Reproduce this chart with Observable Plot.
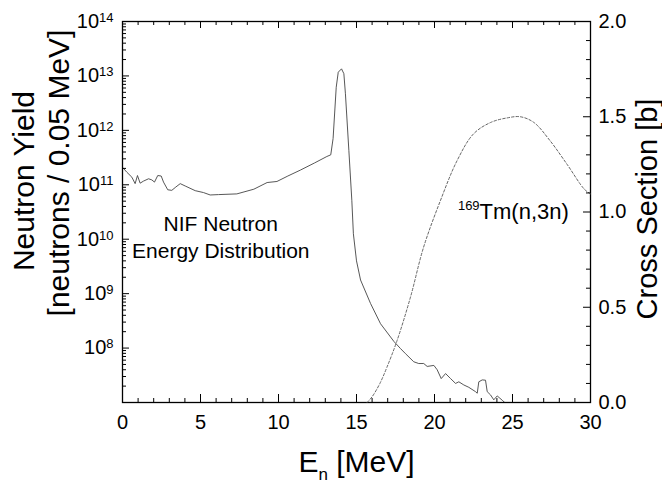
<!DOCTYPE html>
<html><head><meta charset="utf-8">
<script src="https://cdn.jsdelivr.net/npm/d3@7"></script>
<script src="https://cdn.jsdelivr.net/npm/@observablehq/plot@0.6"></script>
<style>
html,body{margin:0;padding:0;background:#fff;}
#wrap{position:relative;width:662px;height:484px;}
#wrap svg{position:absolute;left:0;top:0;}
</style></head><body><div id="wrap"></div>
<script>
// NIF neutron energy distribution (neutrons / 0.05 MeV)
const energy = [0.0,0.28,0.6,0.81,0.96,1.13,1.35,1.67,1.88,2.05,2.26,2.48,2.63,2.9,3.16,3.42,3.7,4.02,4.66,5.19,5.62,6.15,7.33,8.42,9.27,9.9,10.6,11.4,12.3,13.1,13.35,13.5,13.7,13.83,14.04,14.19,14.29,14.51,14.7,14.8,15.0,15.26,15.9,16.54,17.4,17.82,18.14,18.67,18.99,19.31,19.53,19.96,20.17,20.43,20.71,21.03,21.35,21.56,21.88,22.2,22.63,22.74,22.84,23.06,23.27,23.38,23.59,23.8,24.02,24.19,24.34,24.5];
const yieldValues = [2.09e11,1.70e11,1.38e11,1.05e11,1.48e11,1.07e11,1.17e11,1.29e11,1.23e11,1.12e11,1.48e11,1.45e11,1.12e11,8.1e10,7.9e10,9.1e10,1.05e11,9.5e10,7.8e10,7.2e10,6.5e10,6.6e10,6.8e10,8.3e10,1.10e11,1.15e11,1.45e11,1.86e11,2.51e11,3.31e11,3.55e11,7.1e11,6.2e12,1.17e13,1.35e13,1.10e13,4.7e12,4.3e11,5.2e10,1.26e10,4.0e9,1.78e9,6.6e8,2.8e8,1.32e8,9.8e7,7.9e7,5.6e7,5.2e7,5.2e7,4.6e7,4.8e7,4.0e7,2.75e7,3.4e7,2.75e7,2.24e7,2.4e7,2.1e7,1.9e7,1.58e7,1.48e7,2.4e7,2.6e7,2.57e7,1.58e7,1.38e7,1.12e7,1.32e7,1.2e7,1.1e7,1.0e7];
// 169Tm(n,3n) cross section [b]
const xsEnergy = [15.68,16.0,16.5,16.95,17.6,18.46,19.3,20.38,21.45,22.5,23.6,24.66,25.5,26.37,27.4,28.5,29.6,30.0];
const xsValues = [0,0.03,0.10,0.185,0.325,0.553,0.815,1.06,1.27,1.41,1.47,1.494,1.50,1.47,1.375,1.25,1.12,1.095];

const xTicks = [0,5,10,15,20,25,30];
const xMinorTicks = d3.range(0,31).filter(d => d % 5 !== 0);
const yTicks = [1e8,1e9,1e10,1e11,1e12,1e13,1e14];
const yMinorTicks = d3.range(7,14).flatMap(k => d3.range(2,10).map(m => m * Math.pow(10,k)));
const y2Ticks = [0,0.5,1.0,1.5,2.0];
const y2MinorTicks = d3.range(1,20).map(d => d/10).filter(d => Math.round(d*10) % 5 !== 0);

const yieldData = energy.map((e,i) => ({e, v: yieldValues[i]}));
const xsData = xsEnergy.map((e,i) => ({e, v: xsValues[i]}));

const W = 662, H = 484, ML = 122, MR = 72, MT = 21, MB = 82;
const PW = W - ML - MR, PH = H - MT - MB;
const FONT = "'Liberation Sans', Arial, Helvetica, sans-serif";
const common = {width: W, height: H, marginLeft: ML, marginRight: MR, marginTop: MT, marginBottom: MB,
  style: {fontFamily: FONT, fontSize: "20px", color: "#000", background: "transparent", overflow: "visible"}};

const p1 = Plot.plot({
  ...common,
  x: {domain: [0,30]},
  y: {type: "log", domain: [1e7,1e14]},
  marks: [
    Plot.line(yieldData, {x: "e", y: "v", stroke: "#444", strokeWidth: 0.9}),
    // left ticks (inward)
    Plot.tickY(yTicks, {y: d => d, insetRight: PW - 7, stroke: "#000"}),
    Plot.tickY(yMinorTicks, {y: d => d, insetRight: PW - 4, stroke: "#000"}),
    // bottom ticks (inward)
    Plot.tickX(xTicks, {x: d => d, insetTop: PH - 8, stroke: "#000"}),
    Plot.tickX(xMinorTicks, {x: d => d, insetTop: PH - 4, stroke: "#000"}),
    // top ticks (inward)
    Plot.tickX(xTicks, {x: d => d, insetBottom: PH - 7, stroke: "#000"}),
    Plot.tickX(xMinorTicks, {x: d => d, insetBottom: PH - 4, stroke: "#000"}),
    Plot.axisY({ticks: yTicks, tickSize: 0, tickPadding: 9, fontSize: 20,
      tickFormat: d => "10^" + Math.round(Math.log10(d)), label: null}),
    Plot.axisX({ticks: xTicks, tickSize: 0, tickPadding: 12, fontSize: 20, tickFormat: d => String(d), label: null}),
    Plot.text(["NIF Neutron\nEnergy Distribution"], {x: 6.3, y: 1.15e10, text: d => d, fontSize: 21, lineHeight: 1.27, textAnchor: "middle"}),
    Plot.text(["Neutron Yield"], {frameAnchor: "left", text: d => d, rotate: -90, textAnchor: "middle", dx: -98.5, dy: -31, fontSize: 30}),
    Plot.text(["[neutrons / 0.05 MeV]"], {frameAnchor: "left", text: d => d, rotate: -90, textAnchor: "middle", dx: -63, dy: -39, fontSize: 30}),
    Plot.text(["E_n [MeV]"], {frameAnchor: "bottom", text: d => d, textAnchor: "middle", lineAnchor: "bottom", dy: 69, fontSize: 30}),
    Plot.frame({stroke: "#000", strokeWidth: 1.3})
  ]
});

const p2 = Plot.plot({
  ...common,
  x: {domain: [0,30], axis: null},
  y: {domain: [0,2], axis: null},
  marks: [
    Plot.line(xsData, {x: "e", y: "v", stroke: "#555", strokeWidth: 0.9, strokeDasharray: "2.5,2", curve: "catmull-rom"}),
    Plot.tickY(y2Ticks, {y: d => d, insetLeft: PW - 7, stroke: "#000"}),
    Plot.tickY(y2MinorTicks, {y: d => d, insetLeft: PW - 4, stroke: "#000"}),
    Plot.axisY({anchor: "right", ticks: y2Ticks, tickSize: 0, tickPadding: 8, fontSize: 20, tickFormat: d => d.toFixed(1), label: null}),
    Plot.text(["^169Tm(n,3n)"], {x: 21.5, y: 1.0, text: d => d, fontSize: 22, textAnchor: "start"}),
    Plot.text(["Cross Section [b]"], {frameAnchor: "right", text: d => d, rotate: -90, textAnchor: "middle", dx: 57, dy: -3, fontSize: 29})
  ]
});

const wrap = document.getElementById("wrap");
wrap.appendChild(p1);
wrap.appendChild(p2);

const NS = "http://www.w3.org/2000/svg";
function rich(el, parts) {
  el.textContent = "";
  for (const [t, dy, fs] of parts) {
    const ts = document.createElementNS(NS, "tspan");
    if (dy) ts.setAttribute("dy", dy);
    if (fs) ts.setAttribute("font-size", fs);
    ts.textContent = t;
    el.appendChild(ts);
  }
}
for (const svg of [p1, p2]) {
  for (const t of svg.querySelectorAll("text")) {
    const s = t.textContent;
    let m;
    if ((m = /^10\^(\d+)$/.exec(s))) rich(t, [["10"], [m[1], -6, 13]]);
    else if (s === "E_n [MeV]") rich(t, [["E"], ["n", 8, 17], ["\u00a0[MeV]", -8]]);
    else if (s === "^169Tm(n,3n)") rich(t, [["169", -9, 13], ["Tm(n,3n)", 9]]);
  }
}
</script></body></html>
